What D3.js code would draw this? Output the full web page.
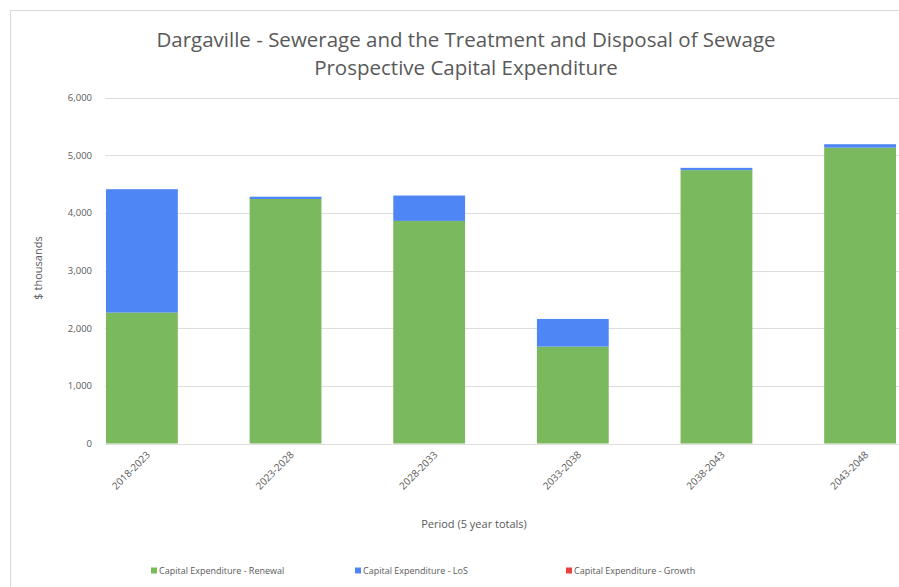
<!DOCTYPE html>
<html>
<head>
<meta charset="utf-8">
<script src="https://cdn.jsdelivr.net/npm/d3@7"></script>
<style>
  html, body { margin: 0; padding: 0; background: #fff; }
  svg { display: block; font-family: "Open Sans", sans-serif; }
</style>
</head>
<body>
<svg id="chart" width="899" height="587"></svg>
<script>
// Five-year periods and capital expenditure ($ thousands) by type
const periods = ["2018-2023", "2023-2028", "2028-2033", "2033-2038", "2038-2043", "2043-2048"];
const renewal = [2270, 4240, 3860, 1680, 4740, 5130];
const los     = [2140,   40,  440,  480,   40,   60];
const growth  = [   0,    0,    0,    0,    0,    0];
const yTicks  = [0, 1000, 2000, 3000, 4000, 5000, 6000];

const seriesNames = ["Capital Expenditure - Renewal", "Capital Expenditure - LoS", "Capital Expenditure - Growth"];
const seriesColors = ["#7ab95d", "#4e87f5", "#e8413c"];
const keys = ["renewal", "los", "growth"];

const rows = periods.map((p, i) => ({ period: p, renewal: renewal[i], los: los[i], growth: growth[i] }));
const stacked = d3.stack().keys(keys)(rows);

const svg = d3.select("#chart");
const textColor = "#595959";
const gridColor = "#dedede";

// chart frame
svg.append("rect")
  .attr("x", 10.5).attr("y", 10.5)
  .attr("width", 960).attr("height", 620)
  .attr("fill", "#fff").attr("stroke", "#d9d9d9");

const x = d3.scaleBand().domain(periods).range([106, 896]).paddingInner(0.5).paddingOuter(0);
const y = d3.scaleLinear().domain([0, 6000]).range([443.5, 97.5]);

// title
const title = svg.append("text")
  .attr("text-anchor", "middle")
  .attr("fill", textColor).attr("font-size", 20.5);
title.append("tspan").attr("x", 466).attr("y", 47).text("Dargaville - Sewerage and the Treatment and Disposal of Sewage");
title.append("tspan").attr("x", 466).attr("y", 75).text("Prospective Capital Expenditure");

// horizontal gridlines
svg.append("g").selectAll("line").data(yTicks).join("line")
  .attr("x1", 105).attr("x2", 899)
  .attr("y1", d => Math.round(y(d)) + 0.5).attr("y2", d => Math.round(y(d)) + 0.5)
  .attr("stroke", gridColor).attr("stroke-width", 1);

// y axis labels
const yAxis = svg.append("g").attr("transform", "translate(100,0)")
  .call(d3.axisLeft(y).tickValues(yTicks).tickFormat(d3.format(",")).tickSize(0).tickPadding(8));
yAxis.select(".domain").remove();
yAxis.selectAll("text").attr("fill", textColor).attr("font-size", 9.5).attr("font-family", "Open Sans, sans-serif");

// stacked bars
svg.append("g").selectAll("g").data(stacked).join("g")
  .attr("fill", (d, i) => seriesColors[i])
  .selectAll("rect").data(d => d).join("rect")
  .attr("x", d => x(d.data.period))
  .attr("width", x.bandwidth())
  .attr("y", d => y(d[1]))
  .attr("height", d => y(d[0]) - y(d[1]));

// x axis labels
const xAxis = svg.append("g").attr("transform", `translate(0,${y(0)})`)
  .call(d3.axisBottom(x).tickSize(0).tickPadding(0));
xAxis.select(".domain").remove();
xAxis.selectAll("text")
  .attr("fill", textColor).attr("font-size", 10).attr("font-family", "Open Sans, sans-serif")
  .attr("text-anchor", "end")
  .attr("dy", 0)
  .attr("transform", "translate(9,12) rotate(-45)");

// axis titles
svg.append("text")
  .attr("transform", "translate(42,268) rotate(-90)")
  .attr("text-anchor", "middle").attr("fill", textColor).attr("font-size", 11)
  .text("$ thousands");
svg.append("text")
  .attr("x", 474).attr("y", 528)
  .attr("text-anchor", "middle").attr("fill", textColor).attr("font-size", 11)
  .text("Period (5 year totals)");

// legend
const legendX = [151, 355, 566];
const legend = svg.append("g").selectAll("g").data(seriesNames).join("g")
  .attr("transform", (d, i) => `translate(${legendX[i]},571)`);
legend.append("rect").attr("x", 0).attr("y", -3.5).attr("width", 6).attr("height", 6)
  .attr("fill", (d, i) => seriesColors[i]);
legend.append("text").attr("x", 8).attr("y", 3).attr("font-size", 9).attr("fill", textColor).text(d => d);
</script>
</body>
</html>
